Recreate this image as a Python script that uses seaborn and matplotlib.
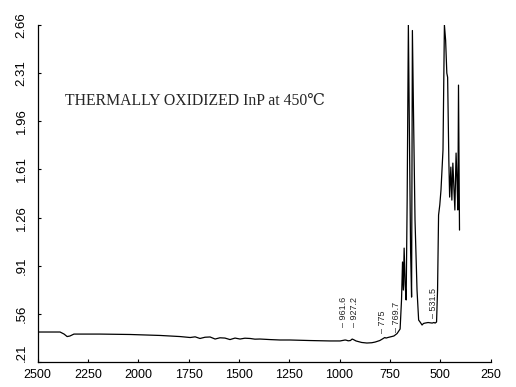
import matplotlib
matplotlib.use("Agg")
import matplotlib.pyplot as plt
import seaborn as sns
import pandas as pd

# IR absorbance spectrum of thermally oxidized InP (450 C)
wavenumber = [2500, 2388, 2368, 2353, 2339, 2319, 2190, 2040, 1891, 1792,
              1742, 1717, 1693, 1668, 1643, 1618, 1594, 1569, 1544, 1519,
              1494, 1470, 1444, 1420, 1395, 1345, 1296, 1246, 1146, 1047,
              997, 972, 965, 957, 946, 937, 928, 918, 890, 864,
              840, 823, 800, 785, 775, 769, 760, 749, 730, 714,
              699, 692, 687, 683, 679, 674, 669, 664, 658, 652,
              647, 642, 638, 632, 625, 615, 607, 600, 590, 583,
              575, 560, 540, 531, 525, 518, 513, 508, 502, 496,
              486, 479, 473, 467, 463, 457, 453, 447, 442, 437,
              432, 427, 424, 421, 417, 412, 409, 404]
absorbance = [0.428, 0.428, 0.413, 0.395, 0.399, 0.413, 0.413, 0.410, 0.403, 0.395,
              0.388, 0.393, 0.381, 0.390, 0.392, 0.377, 0.386, 0.384, 0.373, 0.384,
              0.377, 0.383, 0.381, 0.376, 0.377, 0.373, 0.370, 0.370, 0.366, 0.363,
              0.363, 0.370, 0.368, 0.364, 0.366, 0.377, 0.371, 0.363, 0.352, 0.348,
              0.350, 0.355, 0.366, 0.379, 0.388, 0.384, 0.388, 0.392, 0.399, 0.417,
              0.450, 0.661, 0.937, 0.733, 1.038, 0.770, 0.661, 1.387, 2.66, 1.751,
              1.024, 0.682, 2.62, 1.969, 1.242, 0.733, 0.515, 0.501, 0.479, 0.490,
              0.493, 0.497, 0.493, 0.497, 0.493, 0.501, 0.733, 1.278, 1.351, 1.460,
              1.751, 2.66, 2.55, 2.31, 2.28, 1.678, 1.409, 1.627, 1.387, 1.656,
              1.482, 1.315, 1.533, 1.729, 1.554, 1.315, 2.223, 1.169]

# Labelled band positions and where their labels sit
peak_labels = ["961.6", "927.2", "775", "769.7", "531.5"]
peak_positions = [961.6, 927.2, 775, 769.7, 531.5]
label_base = [0.464, 0.464, 0.421, 0.428, 0.530]
label_shift = [-2.5, 0.0, -2.0, 7.5, -0.5]

x_ticks = [2500, 2250, 2000, 1750, 1500, 1250, 1000, 750, 500, 250]
y_ticks = [0.21, 0.56, 0.91, 1.26, 1.61, 1.96, 2.31, 2.66]
y_tick_labels = [".21", ".56", ".91", "1.26", "1.61", "1.96", "2.31", "2.66"]

title_text = "THERMALLY OXIDIZED InP at 450\u2103"

sns.set_style("ticks")
plt.rcParams["font.family"] = ["Liberation Sans", "DejaVu Sans"]

df = pd.DataFrame({"wavenumber": wavenumber, "absorbance": absorbance})

fig = plt.figure(figsize=(5.16, 3.87), dpi=100)
ax = fig.add_axes([0.0727, 0.0646, 0.8779, 0.8708])

sns.lineplot(data=df, x="wavenumber", y="absorbance", sort=False,
             estimator=None, color="black", linewidth=0.9, ax=ax)

ax.set_xlim(2500, 250)
ax.set_ylim(0.21, 2.66)
ax.set_xticks(x_ticks)
ax.set_xticklabels([str(t) for t in x_ticks], fontsize=9)
ax.set_yticks(y_ticks)
ax.set_yticklabels(y_tick_labels, fontsize=9.5, rotation=90, va="center")
ax.set_xlabel("")
ax.set_ylabel("")
ax.tick_params(axis="both", direction="in", length=2, width=0.8, colors="black")
ax.tick_params(axis="x", pad=5)
ax.tick_params(axis="y", pad=7)
sns.despine(ax=ax)
for side in ("left", "bottom"):
    ax.spines[side].set_linewidth(0.9)
    ax.spines[side].set_color("black")
# keep the lowest y label clear of the first x label
ax.get_yticklabels()[0].set_va("bottom")

for lab, pos, base, dx in zip(peak_labels, peak_positions, label_base, label_shift):
    ax.annotate("\u2013 " + lab, xy=(pos, base), xytext=(dx, 0),
                textcoords="offset points", rotation=90, ha="center",
                va="bottom", fontsize=6.5)

ax.text(0.061, 0.775, title_text, transform=ax.transAxes, ha="left",
        va="center", fontsize=11.3,
        family=["Liberation Serif", "DejaVu Serif"])

fig.savefig("out.png", dpi=100)
